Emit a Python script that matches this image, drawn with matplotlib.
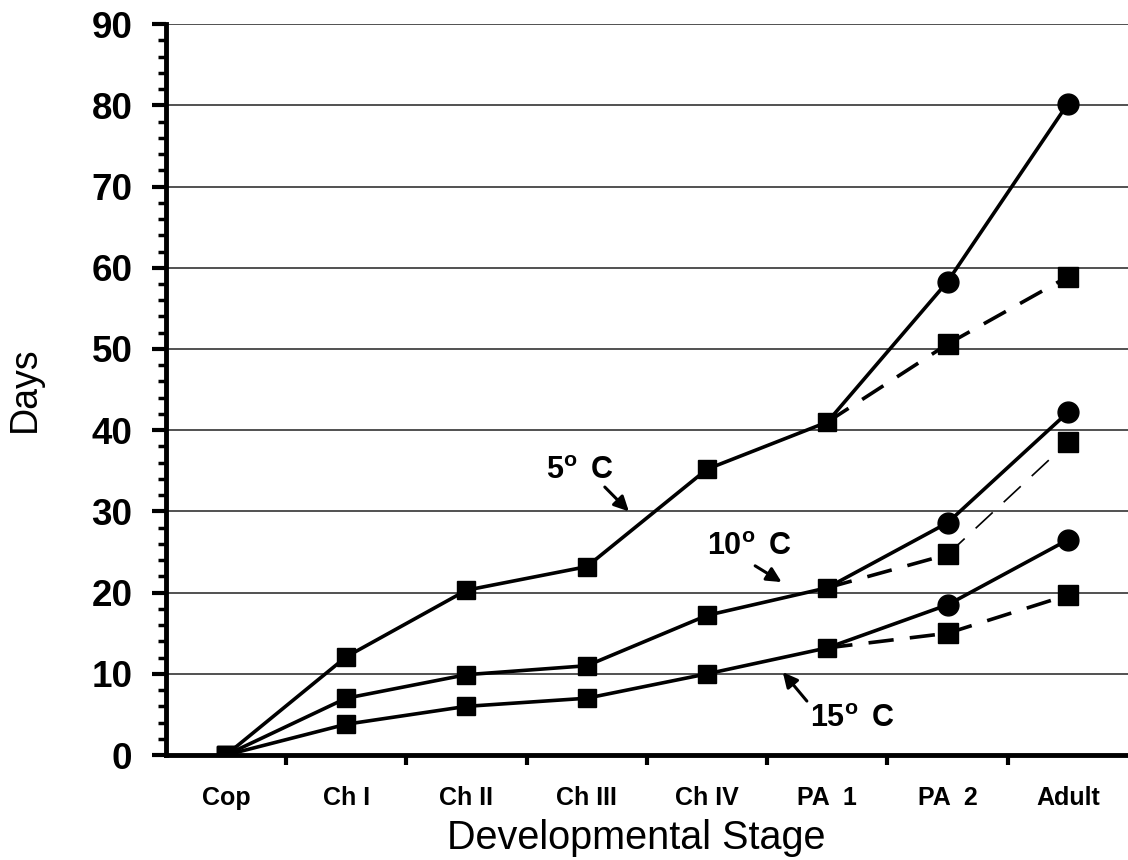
import numpy as np
import matplotlib
matplotlib.use("Agg")
import matplotlib.pyplot as plt
from matplotlib.ticker import MultipleLocator

plt.rcParams['font.family'] = ['Liberation Sans', 'DejaVu Sans']
plt.rcParams['mathtext.fontset'] = 'custom'
plt.rcParams['mathtext.rm'] = 'Liberation Sans:bold'
plt.rcParams['mathtext.bf'] = 'Liberation Sans:bold'

# stages on the x axis
stages = ["Cop", "Ch I", "Ch II", "Ch III", "Ch IV", "PA  1", "PA  2", "Adult"]

# days to reach each stage, shared part (Cop .. PA 1)
t5_early = [0, 12.1, 20.3, 23.2, 35.2, 41.0]
t10_early = [0, 7.0, 9.9, 11.0, 17.2, 20.6]
t15_early = [0, 3.8, 6.0, 7.0, 10.0, 13.2]

# branches after PA 1 (PA 2, Adult): circles = solid, squares = dashed
t5_circle = [58.3, 80.2]
t5_square = [50.6, 58.9]
t10_circle = [28.6, 42.2]
t10_square = [24.7, 38.5]
t15_circle = [18.5, 26.5]
t15_square = [15.0, 19.7]

fig = plt.figure(figsize=(11.28, 8.6), dpi=100)
ax = fig.add_axes([0.1470, 0.122, 0.853, 0.850])

lw = 2.6
ms = 13
x_early = np.arange(len(t5_early))
x_late = np.arange(len(t5_early) - 1, len(stages))

# (early, circles, squares, dashed widths per segment)
series = [
    (t5_early, t5_circle, t5_square, [lw, lw]),
    (t10_early, t10_circle, t10_square, [lw, 1.2]),
    (t15_early, t15_circle, t15_square, [lw, lw]),
]
for early, circ, sq, dash_w in series:
    ys = [early[-1]] + sq
    for i in range(2):
        w = dash_w[i]
        dashes = (0, (7, 4.5)) if w > 2 else (0, (14, 9))
        ax.plot(x_late[i:i + 2], ys[i:i + 2], color='black', lw=w, ls=dashes,
                zorder=3)
    ax.plot(x_late[1:], sq, ls='none', marker='s', ms=ms + 1, color='black', zorder=4)
    ax.plot(x_late, [early[-1]] + circ, color='black', lw=lw, zorder=3)
    ax.plot(x_late[1:], circ, ls='none', marker='o', ms=ms + 2, color='black', zorder=4)
    ax.plot(x_early, early, color='black', lw=lw, marker='s', ms=ms, zorder=5)

ax.set_xlim(-0.5, len(stages) - 0.5)
ax.set_ylim(0, 90)

ax.yaxis.set_major_locator(MultipleLocator(10))
ax.yaxis.set_minor_locator(MultipleLocator(2))
ax.grid(axis='y', which='major', color='#222222', lw=1.1)
ax.set_axisbelow(True)

ax.set_xticks(np.arange(len(stages)))
ax.set_xticklabels(stages, fontsize=18, fontweight='bold')
ax.set_xticks(np.arange(0.5, len(stages) - 1), minor=True)
ax.tick_params(axis='x', which='major', length=0, pad=22)
ax.tick_params(axis='x', which='minor', length=7, width=3, direction='out')
ax.tick_params(axis='y', which='major', length=10, width=3, direction='out',
               labelsize=26.5, pad=14)
ax.tick_params(axis='y', which='minor', length=6, width=2.5, direction='out')
for lab in ax.get_yticklabels():
    lab.set_fontweight('bold')

for side in ['top', 'right']:
    ax.spines[side].set_visible(False)
for side in ['left', 'bottom']:
    ax.spines[side].set_linewidth(3.5)

ax.set_xlabel("Developmental Stage", fontsize=28.5, labelpad=6)
ax.xaxis.set_label_coords(0.489, -0.087)
ax.set_ylabel("Days", fontsize=27)
ax.yaxis.set_label_coords(-0.128, 0.5)

# temperature labels and their arrows
ax.text(2.66, 35.0, "5$^{\\mathrm{o}}\\,$ C", fontsize=22, fontweight='bold',
        ha='left', va='center')
ax.text(4.0, 25.6, "10$^{\\mathrm{o}}\\,$ C", fontsize=22, fontweight='bold',
        ha='left', va='center')
ax.text(4.86, 4.4, "15$^{\\mathrm{o}}\\,$ C", fontsize=22, fontweight='bold',
        ha='left', va='center')

arrow = dict(arrowstyle='-|>', color='black', lw=2.2, mutation_scale=22,
             shrinkA=0, shrinkB=0)
ax.annotate("", xy=(3.35, 30.0), xytext=(3.15, 33.0), arrowprops=arrow)
ax.annotate("", xy=(4.62, 21.3), xytext=(4.40, 23.3), arrowprops=arrow)
ax.annotate("", xy=(4.63, 10.2), xytext=(4.83, 6.65), arrowprops=arrow)

fig.savefig("out.png", dpi=100)
